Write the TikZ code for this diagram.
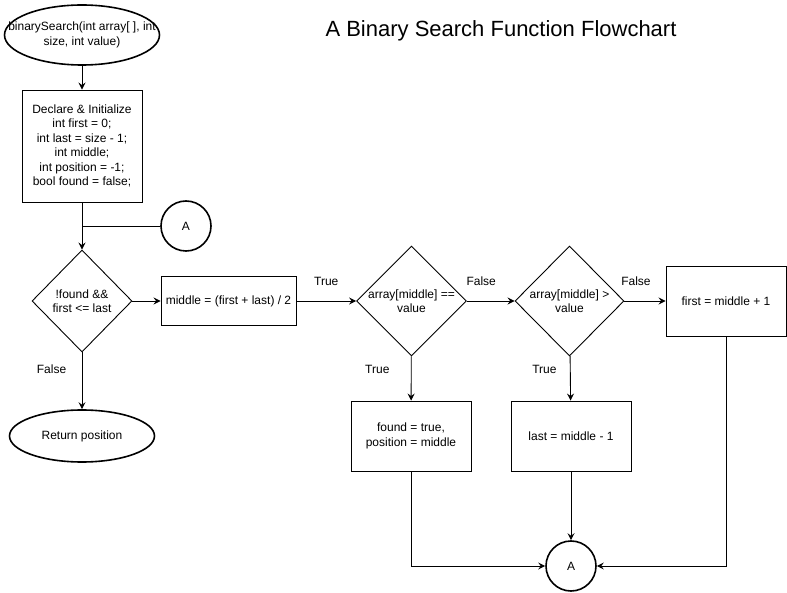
\documentclass[tikz,border=0pt]{standalone}
\usepackage{fontspec}
\setmainfont{Liberation Sans}
\usetikzlibrary{arrows.meta,positioning,shapes.geometric,calc}
\tikzset{
  term/.style={draw, ellipse, line width=1.6pt, align=center, inner sep=0pt},
  proc/.style={draw, line width=0.9pt, align=center, minimum width=120pt, inner sep=2pt},
  decis/.style={draw, diamond, line width=0.9pt, align=center, inner sep=0pt},
  conn/.style={draw, circle, line width=1.6pt, minimum size=50pt, inner sep=0pt},
  arrflow/.style={-{Stealth[length=7pt,width=7pt,inset=2.5pt]}, line width=0.9pt},
  lbl/.style={font=\fontsize{12}{14}\selectfont},
}

\begin{document}
\begin{tikzpicture}[x=1pt, y=-1pt, font=\fontsize{12}{14.4}\selectfont]
\useasboundingbox (0,0) rectangle (787,593);
% title
\node[font=\fontsize{22}{26}\selectfont] (title) at (501,31) {A Binary Search Function Flowchart};
% left column
\node[term, inner xsep=-23pt, minimum width=155pt, minimum height=60pt] (start) at (82,35) {binarySearch(int array[ ], int\\size, int value)};
\node[proc, minimum height=112pt] (init) at (82,146) {Declare \& Initialize\\int first = 0;\\int last = size - 1;\\int middle;\\int position = -1;\\bool found = false;};
\node[conn] (ca) at (186,226) {A};
\coordinate (join) at (82,226);
\node[decis, minimum width=100pt, minimum height=102pt] (loop) at (82,301) {!found \&\&\\first <= last};
\node[term, minimum width=145pt, minimum height=52pt] (ret) at (82,436) {Return position};
% middle row
\node[proc, minimum width=135pt, minimum height=49pt] (mid) at (228.5,301) {middle = (first + last) / 2};
\node[decis, minimum width=109pt, minimum height=110pt] (eq) at (411.5,301) {array[middle] ==\\value};
\node[decis, minimum width=109pt, minimum height=110pt] (gt) at (569.5,301) {array[middle] >\\value};
\node[proc, minimum height=70pt] (up) at (726,301) {first = middle + 1};
\node[proc, minimum height=70pt] (hit) at (411,436) {found = true,\\position = middle};
\node[proc, minimum height=70pt] (down) at (571,436) {last = middle - 1};
\node[conn] (cb) at (571,566) {A};

\draw[arrflow] (start) -- (init);
\draw[arrflow] (init) -- (loop);
\draw[line width=0.9pt] (ca) -- (join);
\draw[arrflow] (loop) -- (mid);
\draw[arrflow] (loop) -- node[lbl, pos=0.3, left=12pt] {False} (ret);
\draw[arrflow] (mid) -- node[lbl, above=12pt] {True} (eq);
\draw[arrflow] (eq) -- node[lbl, pos=0.3, above=12pt] {False} (gt);
\draw[arrflow] (gt) -- node[lbl, pos=0.28, above=12pt] {False} (up);
\draw[arrflow] (eq) -- node[lbl, pos=0.3, left=18pt] {True} (hit);
\draw[arrflow] (gt) -- node[lbl, pos=0.3, left=10pt] {True} (down);
\draw[arrflow] (down) -- (cb);
\draw[arrflow] (hit) |- (cb);
\draw[arrflow] (up) |- (cb);
\end{tikzpicture}
\end{document}
